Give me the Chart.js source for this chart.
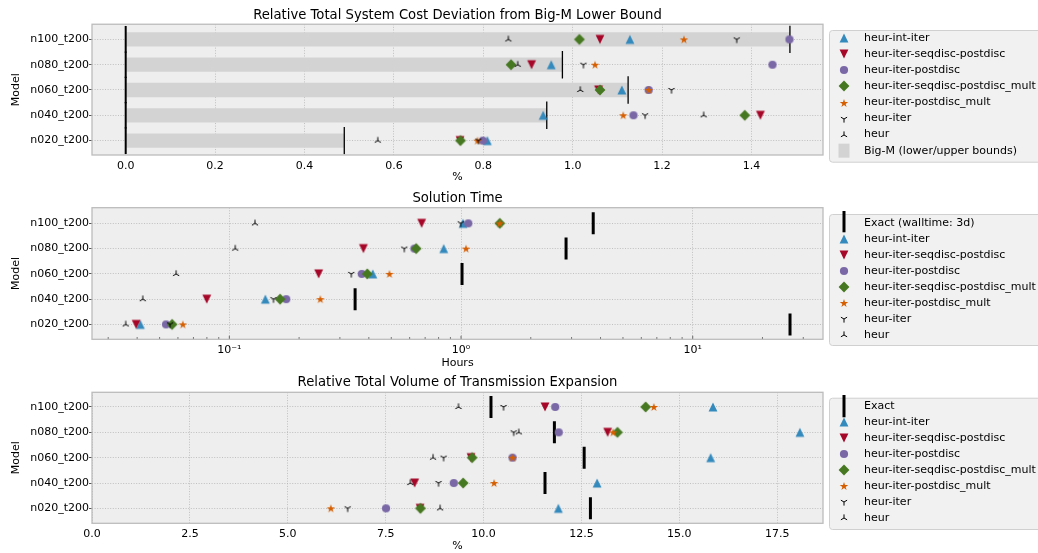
<!DOCTYPE html>
<html><head><meta charset="utf-8">
<script src="https://cdn.jsdelivr.net/npm/chart.js@4"></script>
<style>
html,body{margin:0;padding:0;background:#fff;width:1038px;height:553px;overflow:hidden;position:relative;}
canvas{position:absolute;left:0;width:1038px;height:190px;}
</style></head><body>
<canvas id="c1" width="1038" height="190" style="top:0px"></canvas>
<canvas id="c2" width="1038" height="190" style="top:183px"></canvas>
<canvas id="c3" width="1038" height="190" style="top:368px"></canvas>
<script>
// ---------------- DATA ----------------
const models = ['n100_t200','n080_t200','n060_t200','n040_t200','n020_t200'];
const seriesNames = ['heur-int-iter','heur-iter-seqdisc-postdisc','heur-iter-postdisc',
  'heur-iter-seqdisc-postdisc_mult','heur-iter-postdisc_mult','heur-iter','heur'];

// Panel 1: relative total system cost deviation (%)
const bigMLower = [0, 0, 0, 0, 0];
const bigMUpper = [1.486, 0.977, 1.124, 0.942, 0.489];
const costIntIter       = [1.128, 0.952, 1.110, 0.934, 0.809];
const costSeqdisc       = [1.061, 0.908, 1.058, 1.420, 0.748];
const costPostdisc      = [1.485, 1.447, 1.170, 1.136, 0.799];
const costSeqdiscMult   = [1.015, 0.862, 1.061, 1.385, 0.749];
const costPostdiscMult  = [1.249, 1.050, 1.170, 1.113, 0.787];
const costHeurIter      = [1.367, 1.024, 1.221, 1.162, 0.789];
const costHeur          = [0.856, 0.877, 1.017, 1.293, 0.564];
const costTicks = [0, 0.2, 0.4, 0.6, 0.8, 1.0, 1.2, 1.4];

// Panel 2: solution time (hours)
const timeExact         = [3.72, 2.84, 1.01, 0.349, 26.3];
const timeIntIter       = [1.02, 0.842, 0.416, 0.143, 0.0413];
const timeSeqdisc       = [0.676, 0.379, 0.243, 0.0799, 0.0396];
const timePostdisc      = [1.075, 0.629, 0.373, 0.176, 0.0533];
const timeSeqdiscMult   = [1.47, 0.640, 0.394, 0.1656, 0.0566];
const timePostdiscMult  = [1.47, 1.051, 0.491, 0.247, 0.0630];
const timeHeurIter      = [0.997, 0.569, 0.336, 0.155, 0.0555];
const timeHeur          = [0.129, 0.106, 0.0589, 0.0423, 0.0357];
const timeTicks = [0.1, 1, 10];
const timeTickLabels = ['10\u207B\u00B9', '10\u2070', '10\u00B9'];
const timeMinorTicks = [0.03,0.04,0.05,0.06,0.07,0.08,0.09,0.2,0.3,0.4,0.5,0.6,0.7,0.8,0.9,
  2,3,4,5,6,7,8,9,20,30];

// Panel 3: relative total volume of transmission expansion (%)
const volExact          = [10.19, 11.81, 12.57, 11.57, 12.73];
const volIntIter        = [15.86, 18.08, 15.80, 12.90, 11.91];
const volSeqdisc        = [11.57, 13.17, 9.68, 8.24, 8.38];
const volPostdisc       = [11.83, 11.92, 10.74, 9.24, 7.51];
const volSeqdiscMult    = [14.14, 13.42, 9.71, 9.48, 8.39];
const volPostdiscMult   = [14.35, 13.31, 10.74, 10.27, 6.10];
const volHeurIter       = [10.51, 10.77, 8.98, 8.85, 6.53];
const volHeur           = [9.36, 10.90, 8.71, 8.13, 8.89];
const volTicks = [0, 2.5, 5, 7.5, 10, 12.5, 15, 17.5];

// ---------------- STYLE ----------------
const FONT = "'DejaVu Sans', sans-serif";
Chart.defaults.font.family = FONT;
Chart.defaults.font.size = 11;
Chart.defaults.color = '#000';
Chart.defaults.animation = false;

const COL = {blue:'#348ABD', red:'#A60628', purple:'#7A68A6', green:'#467821', orange:'#D55E00'};
function mk(fn, size) {
  size = size || 16;
  const c = document.createElement('canvas'); c.width = c.height = size;
  const g = c.getContext('2d'); g.translate(size/2, size/2); fn(g); return c;
}
function poly(g, pts, color) { g.fillStyle = color; g.beginPath(); g.moveTo(pts[0][0], pts[0][1]);
  for (let i = 1; i < pts.length; i++) g.lineTo(pts[i][0], pts[i][1]); g.closePath(); g.fill(); }
const MK = {
  triUp: mk(g => poly(g, [[0,-4.4],[4.4,4.4],[-4.4,4.4]], COL.blue)),
  triDown: mk(g => poly(g, [[0,4.4],[4.4,-4.4],[-4.4,-4.4]], COL.red)),
  circle: mk(g => { g.fillStyle = COL.purple; g.beginPath(); g.arc(0,0,4.1,0,Math.PI*2); g.fill(); }),
  diamond: mk(g => poly(g, [[0,-5.4],[5.4,0],[0,5.4],[-5.4,0]], COL.green)),
  star: mk(g => { const pts = []; const R = 4.5, r = R*0.382;
    for (let i = 0; i < 10; i++) { const a = -Math.PI/2 + i*Math.PI/5; const rr = i%2 ? r : R;
      pts.push([Math.cos(a)*rr, Math.sin(a)*rr + 0.4]); }
    poly(g, pts, COL.orange); }),
  tri1: mk(g => { g.strokeStyle = '#000'; g.lineWidth = 1; g.beginPath();
    g.moveTo(0,0); g.lineTo(0,3.6); g.moveTo(0,0); g.lineTo(-3.1,-1.8); g.moveTo(0,0); g.lineTo(3.1,-1.8); g.stroke(); }),
  tri2: mk(g => { g.strokeStyle = '#000'; g.lineWidth = 1; g.beginPath();
    g.moveTo(0,0); g.lineTo(0,-3.6); g.moveTo(0,0); g.lineTo(-3.1,1.8); g.moveTo(0,0); g.lineTo(3.1,1.8); g.stroke(); })
};
const seriesImg = [MK.triUp, MK.triDown, MK.circle, MK.diamond, MK.star, MK.tri1, MK.tri2];

// ---------------- PLUGINS ----------------
const minorTicksFor = { c2: timeMinorTicks };
const majorTicksFor = { c2: timeTicks };
const legendFor = {};

const frameP = {
  id: 'frameP',
  beforeDraw(chart) {
    const a = chart.chartArea, c = chart.ctx;
    c.save(); c.fillStyle = '#eeeeee'; c.fillRect(a.left, a.top, a.right - a.left, a.bottom - a.top); c.restore();
  },
  afterDraw(chart) {
    const a = chart.chartArea, c = chart.ctx;
    c.save();
    const minors = minorTicksFor[chart.canvas.id];
    if (minors) {
      const s = chart.scales.x;
      c.strokeStyle = '#444'; c.lineWidth = 0.8; c.beginPath();
      minors.forEach(v => { const x = s.getPixelForValue(v); c.moveTo(x, a.bottom); c.lineTo(x, a.bottom - 2.2); });
      (majorTicksFor[chart.canvas.id] || []).forEach(v => { const x = s.getPixelForValue(v); c.moveTo(x, a.bottom); c.lineTo(x, a.bottom - 3.5); });
      c.stroke();
    }
    c.strokeStyle = '#bcbcbc'; c.lineWidth = 1.3;
    c.strokeRect(a.left, a.top, a.right - a.left, a.bottom - a.top);
    c.restore();
  }
};

const sideLegend = {
  id: 'sideLegend',
  afterDraw(chart) {
    const o = legendFor[chart.canvas.id]; if (!o) return;
    const c = chart.ctx; c.save();
    const [bx, by, bw, bh] = o.box;
    c.fillStyle = '#f1f1f1'; c.strokeStyle = '#d0d0d0'; c.lineWidth = 1;
    c.beginPath(); c.roundRect(bx + 0.5, by + 0.5, bw, bh, 3); c.fill(); c.stroke();
    o.items.forEach((it, k) => {
      const y = o.y0 + k * o.step;
      if (it.img) c.drawImage(it.img, Math.round(o.mx - it.img.width/2), Math.round(y - it.img.height/2));
      else if (it.vline) { c.strokeStyle = '#000'; c.lineWidth = 3; c.beginPath();
        c.moveTo(o.mx, it.vline[0]); c.lineTo(o.mx, it.vline[1]); c.stroke(); }
      else if (it.patch) { c.fillStyle = '#d3d3d3'; c.fillRect(o.mx - 5.5, y - 7, 11, 14); }
      c.fillStyle = '#000'; c.font = '11px ' + FONT; c.textBaseline = 'middle'; c.textAlign = 'left';
      c.fillText(it.label, o.tx, y);
    });
    c.restore();
  }
};
Chart.register(frameP, sideLegend);

// ---------------- HELPERS ----------------
const GRID = { color: '#b4b4b4', lineWidth: 0.8 };
function yScale(min, max) {
  return {
    type: 'linear', reverse: true, min: min, max: max, bounds: 'data', offset: false,
    afterBuildTicks: s => { s.ticks = models.map((m, i) => ({value: i})); },
    afterFit: s => { s.width = 92; },
    ticks: { callback: v => models[v], padding: 0, autoSkip: false },
    grid: { offset: false, color: GRID.color, lineWidth: GRID.lineWidth, drawTicks: true, tickLength: 3, tickColor: '#555', tickWidth: 1 },
    border: { display: false, dash: [1, 1.6] },
    title: { display: true, text: 'Model', padding: {top: 9.4, bottom: 0} }
  };
}
function xScale(base, plotBottom, titleText, titleCenter, tickVals, labelFn) {
  return Object.assign({
    bounds: 'data', offset: false,
    afterBuildTicks: s => { s.ticks = tickVals.map(v => ({value: v})); },
    afterFit: s => { s.height = 190 - plotBottom; },
    ticks: { callback: labelFn, padding: 4.5, autoSkip: false, maxRotation: 0 },
    grid: { offset: false, color: GRID.color, lineWidth: GRID.lineWidth, drawTicks: false },
    border: { display: false, dash: [1, 1.6] },
    title: { display: true, text: titleText, padding: {top: 0, bottom: 190 - titleCenter - 6.6} }
  }, base);
}
function markerSets(arrs) {
  return arrs.map((arr, k) => ({
    type: 'scatter', label: seriesNames[k],
    data: arr.map((v, i) => ({x: v, y: i})),
    pointStyle: seriesImg[k], pointRadius: 5, pointHoverRadius: 5, order: 10 - k
  }));
}
function vlineSet(vals, radius, width, order) {
  return { type: 'scatter', data: vals.map((v, i) => ({x: v, y: i})),
    pointStyle: 'line', pointRotation: 90, pointRadius: radius, pointHoverRadius: radius,
    pointBorderColor: '#000', pointBackgroundColor: '#000', pointBorderWidth: width,
    pointHoverBorderWidth: width, order: order };
}
function titleOpt(text, pt, pb) {
  return { display: true, text: text, fullSize: false, color: '#000',
    font: {size: 13.2, weight: 'normal'}, padding: {top: pt, bottom: pb} };
}
function baseOptions(title, x, y) {
  return {
    responsive: false, animation: false, events: [],
    layout: { padding: {left: 0, right: 215, top: 0, bottom: 0} },
    plugins: { legend: {display: false}, tooltip: {enabled: false}, title: title },
    scales: { x: x, y: y }
  };
}
const legendItems = seriesNames.map((n, k) => ({label: n, img: seriesImg[k]}));

// ---------------- PANEL 1 ----------------
legendFor.c1 = { box: [829, 30, 220, 131.7], y0: 38.3, step: 16.05, mx: 844, tx: 864,
  items: legendItems.concat([{label: 'Big-M (lower/upper bounds)', patch: true}]) };
new Chart(document.getElementById('c1'), {
  type: 'scatter',
  data: { datasets: [
    { type: 'bar', indexAxis: 'y', data: bigMUpper.map((v, i) => ({x: [bigMLower[i], v], y: i})),
      backgroundColor: '#d3d3d3', borderWidth: 0, categoryPercentage: 1, barPercentage: 0.565, order: 30 },
    vlineSet(bigMLower, 13.3, 2, 26),
    vlineSet(bigMUpper, 13.7, 1.3, 25)
  ].concat(markerSets([costIntIter, costSeqdisc, costPostdisc, costSeqdiscMult, costPostdiscMult, costHeurIter, costHeur])) },
  options: baseOptions(
    titleOpt('Relative Total System Cost Deviation from Big-M Lower Bound', 7.2, 1.2),
    xScale({type: 'linear', min: -0.0754, max: 1.56}, 155, '%', 177, costTicks, v => Number(v).toFixed(1)),
    yScale(-0.6, 4.57))
});

// ---------------- PANEL 2 ----------------
legendFor.c2 = { box: [829, 31, 220, 131], y0: 39.7, step: 16.0, mx: 844, tx: 864,
  items: [{label: 'Exact (walltime: 3d)', vline: [28, 49.3]}].concat(legendItems) };
new Chart(document.getElementById('c2'), {
  type: 'scatter',
  data: { datasets: [vlineSet(timeExact, 11, 3, 25)].concat(
    markerSets([timeIntIter, timeSeqdisc, timePostdisc, timeSeqdiscMult, timePostdiscMult, timeHeurIter, timeHeur])) },
  options: baseOptions(
    titleOpt('Solution Time', 7.4, 1.46),
    xScale({type: 'logarithmic', min: 0.02554, max: 36.5}, 156.3, 'Hours', 180, timeTicks,
      (v, i) => timeTickLabels[i]),
    yScale(-0.62, 4.59))
});

// ---------------- PANEL 3 ----------------
legendFor.c3 = { box: [829, 29.7, 220, 131.3], y0: 38.3, step: 16.0, mx: 844, tx: 864,
  items: [{label: 'Exact', vline: [27, 49.3]}].concat(legendItems) };
new Chart(document.getElementById('c3'), {
  type: 'scatter',
  data: { datasets: [vlineSet(volExact, 11, 3, 25)].concat(
    markerSets([volIntIter, volSeqdisc, volPostdisc, volSeqdiscMult, volPostdiscMult, volHeurIter, volHeur])) },
  options: baseOptions(
    titleOpt('Relative Total Volume of Transmission Expansion', 6.4, 2.06),
    xScale({type: 'linear', min: 0, max: 18.67}, 155.3, '%', 178, volTicks, v => Number(v).toFixed(1)),
    yScale(-0.58, 4.59))
});
</script></body></html>
